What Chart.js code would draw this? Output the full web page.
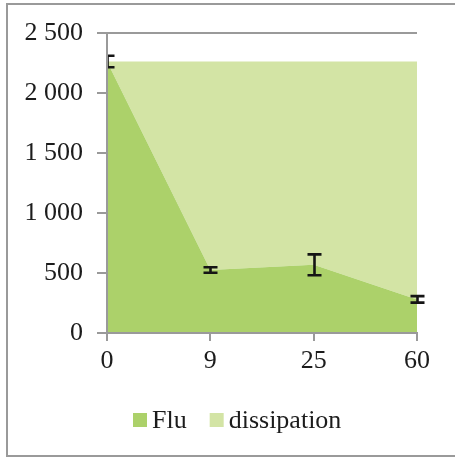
<!DOCTYPE html>
<html>
<head>
<meta charset="utf-8">
<script src="https://cdn.jsdelivr.net/npm/chart.js@4.4.1/dist/chart.umd.min.js"></script>
<style>
html, body { margin: 0; padding: 0; background: #fff; }
#wrap { position: relative; width: 455px; height: 458px; overflow: hidden; }
#frame { position: absolute; left: 6px; top: 3px; width: 470px; height: 454px; box-sizing: border-box; border: 2px solid #9a9a9a; }
canvas { position: absolute; left: 0; top: 0; }
</style>
</head>
<body>
<div id="wrap"><div id="frame"></div><canvas id="c" width="455" height="458"></canvas></div>
<script>
const categories = ['0', '9', '25', '60'];
const fluValues = [2262, 525, 568, 280];
const fluErrors = [48, 23, 87, 27];
const dissipationValues = [0, 1737, 1694, 1982];
const yTicks = [0, 500, 1000, 1500, 2000, 2500];

const axisGrey = '#9a9a9a';
const textColor = '#1c1c1c';
const serif = 'Liberation Serif';

// error bars on the Flu series
const errorBars = {
    id: 'errorBars',
    afterDatasetsDraw(chart) {
        const { ctx, chartArea, scales: { x, y } } = chart;
        ctx.save();
        ctx.beginPath();
        ctx.rect(chartArea.left, 0, chart.width - chartArea.left, chart.height);
        ctx.clip();
        ctx.strokeStyle = '#151515';
        ctx.lineWidth = 2.6;
        fluValues.forEach((v, i) => {
            const px = Math.round(x.getPixelForValue(i)) + 0.5;
            const top = y.getPixelForValue(v + fluErrors[i]);
            const bot = y.getPixelForValue(v - fluErrors[i]);
            ctx.beginPath();
            ctx.moveTo(px, top);
            ctx.lineTo(px, bot);
            ctx.moveTo(px - 7, top);
            ctx.lineTo(px + 7, top);
            ctx.moveTo(px - 7, bot);
            ctx.lineTo(px + 7, bot);
            ctx.stroke();
        });
        ctx.restore();
    }
};

// legend row under the plot
const legendRow = {
    id: 'legendRow',
    afterDraw(chart) {
        const { ctx } = chart;
        ctx.save();
        ctx.font = '26px "' + serif + '"';
        ctx.textBaseline = 'alphabetic';
        let lx = 133;
        chart.data.datasets.forEach(ds => {
            ctx.fillStyle = ds.backgroundColor;
            ctx.fillRect(lx, 413, 14, 14);
            ctx.fillStyle = textColor;
            ctx.fillText(ds.label, lx + 19, 428);
            lx += 19 + ctx.measureText(ds.label).width + 23;
        });
        ctx.restore();
    }
};

new Chart(document.getElementById('c'), {
    type: 'line',
    data: {
        labels: categories,
        datasets: [{
            label: 'Flu',
            data: fluValues,
            backgroundColor: '#acd16a',
            fill: 'origin',
            borderWidth: 0,
            pointRadius: 0,
            tension: 0
        }, {
            label: 'dissipation',
            data: dissipationValues,
            backgroundColor: '#d3e4a5',
            fill: '-1',
            borderWidth: 0,
            pointRadius: 0,
            tension: 0
        }]
    },
    options: {
        responsive: false,
        animation: false,
        layout: { padding: { left: 10, right: 38, top: 33, bottom: 85 } },
        plugins: {
            legend: { display: false },
            tooltip: { enabled: false }
        },
        scales: {
            x: {
                offset: false,
                grid: { drawOnChartArea: false, tickColor: axisGrey, tickLength: 8, lineWidth: 2 },
                border: { color: axisGrey, width: 2, z: 1 },
                ticks: { color: textColor, font: { family: serif, size: 26 }, padding: 5, maxRotation: 0 },
                afterFit(scale) { scale.height = 40; }
            },
            y: {
                stacked: true,
                min: 0,
                max: 2500,
                afterBuildTicks(scale) { scale.ticks = yTicks.map(v => ({ value: v })); },
                grid: {
                    color: c => c.tick && c.tick.value === 2500 ? axisGrey : 'rgba(0,0,0,0)',
                    tickColor: axisGrey,
                    tickLength: 10,
                    lineWidth: 2
                },
                border: { color: axisGrey, width: 2, z: 1 },
                ticks: {
                    color: textColor,
                    font: { family: serif, size: 26 },
                    padding: 14,
                    callback: v => v.toLocaleString('en-US').replace(',', ' ')
                },
                afterFit(scale) { scale.width = 97; }
            }
        }
    },
    plugins: [errorBars, legendRow]
});
</script>
</body>
</html>
